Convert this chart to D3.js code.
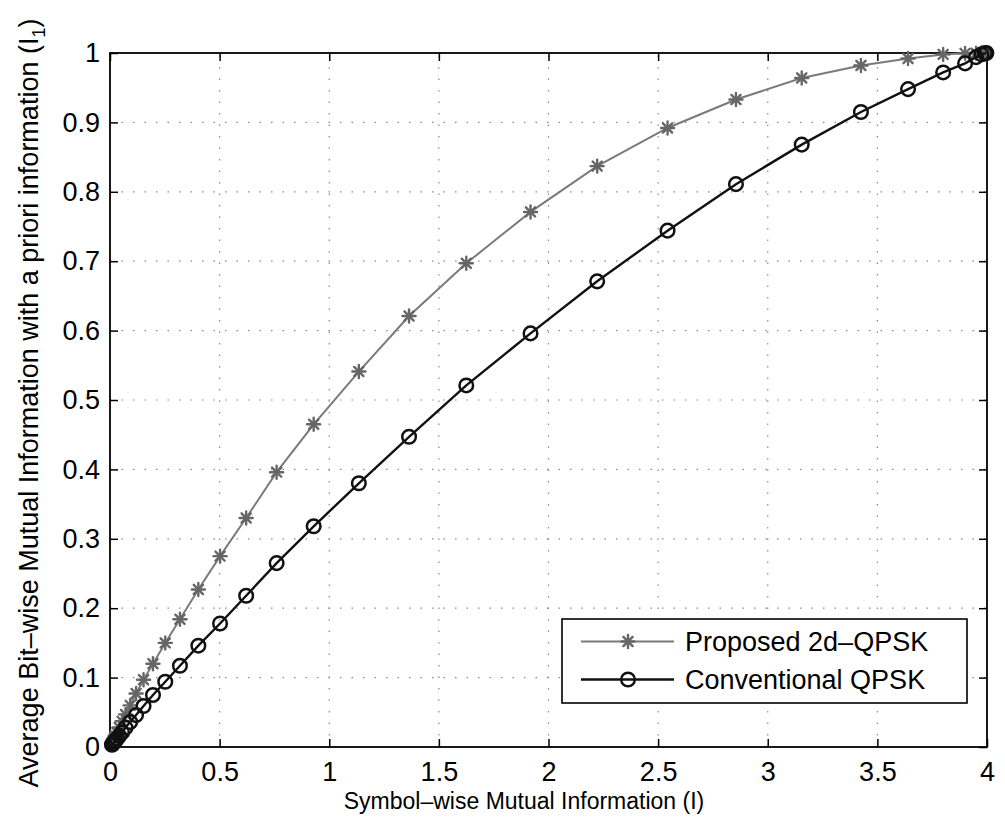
<!DOCTYPE html>
<html>
<head>
<meta charset="utf-8">
<script src="https://cdn.jsdelivr.net/npm/d3@7"></script>
<style>
  html, body { margin: 0; padding: 0; background: #fff; }
  svg { display: block; font-family: "Liberation Sans", Arial, Helvetica, sans-serif; }
</style>
</head>
<body>
<svg id="chart" width="1005" height="821"></svg>
<script>
// ---- Data ----
const symbolMI = [3.997, 3.99, 3.975, 3.95, 3.90, 3.80, 3.64, 3.425, 3.155, 2.855, 2.543, 2.222, 1.918, 1.625, 1.364, 1.135, 0.929, 0.760, 0.621, 0.502, 0.403, 0.319, 0.252, 0.196, 0.153, 0.119, 0.092, 0.071, 0.055, 0.042, 0.032, 0.025, 0.019, 0.015, 0.011, 0.009];
const proposed2dQPSK = [1.0, 1.0, 1.0, 0.9998, 0.9995, 0.998, 0.992, 0.982, 0.964, 0.933, 0.892, 0.837, 0.771, 0.697, 0.621, 0.541, 0.465, 0.396, 0.330, 0.275, 0.227, 0.184, 0.150, 0.120, 0.097, 0.077, 0.060, 0.047, 0.037, 0.028, 0.021, 0.016, 0.012, 0.0095, 0.007, 0.0055];
const conventionalQPSK = [1.0, 0.9995, 0.998, 0.994, 0.985, 0.972, 0.948, 0.915, 0.868, 0.811, 0.744, 0.671, 0.596, 0.521, 0.447, 0.380, 0.318, 0.265, 0.218, 0.178, 0.146, 0.117, 0.094, 0.075, 0.059, 0.046, 0.036, 0.028, 0.021, 0.016, 0.012, 0.0093, 0.007, 0.0055, 0.004, 0.0033];
const xTicks = [0, 0.5, 1, 1.5, 2, 2.5, 3, 3.5, 4];
const xTickLabels = ["0", "0.5", "1", "1.5", "2", "2.5", "3", "3.5", "4"];
const yTicks = [0, 0.1, 0.2, 0.3, 0.4, 0.5, 0.6, 0.7, 0.8, 0.9, 1];
const yTickLabels = ["0", "0.1", "0.2", "0.3", "0.4", "0.5", "0.6", "0.7", "0.8", "0.9", "1"];
const seriesNames = ["Proposed 2d\u2013QPSK", "Conventional QPSK"];

// ---- Layout ----
const L = 110, R = 987, T = 53, B = 747;
const svg = d3.select("#chart");
const x = d3.scaleLinear().domain([0, 4]).range([L, R]);
const y = d3.scaleLinear().domain([0, 1]).range([B, T]);

// grid
const grid = svg.append("g").attr("stroke", "#8a8a8a").attr("stroke-width", 1.2)
  .attr("stroke-dasharray", "1.5,10");
grid.selectAll(".gx").data(xTicks.slice(1, -1)).enter().append("line")
  .attr("x1", d => x(d)).attr("x2", d => x(d)).attr("y1", B).attr("y2", T);
grid.selectAll(".gy").data(yTicks.slice(1, -1)).enter().append("line")
  .attr("y1", d => y(d)).attr("y2", d => y(d)).attr("x1", L).attr("x2", R);

// axes (inward ticks on all sides, box)
const tickLen = 8;
const axB = d3.axisBottom(x).tickValues(xTicks).tickSize(-tickLen).tickPadding(15)
  .tickFormat((d, i) => xTickLabels[i]);
const axT = d3.axisTop(x).tickValues(xTicks).tickSize(-tickLen).tickFormat("");
const axLft = d3.axisLeft(y).tickValues(yTicks).tickSize(-tickLen).tickPadding(10)
  .tickFormat((d, i) => yTickLabels[i]);
const axRgt = d3.axisRight(y).tickValues(yTicks).tickSize(-tickLen).tickFormat("");

function styleAxis(g) {
  g.select(".domain").remove();
  g.selectAll(".tick line").attr("stroke", "#000").attr("stroke-width", 1.5);
  g.selectAll(".tick text").attr("fill", "#000").attr("font-size", 27)
    .attr("font-family", "'Liberation Sans', Arial, sans-serif");
}
svg.append("g").attr("transform", `translate(0,${B})`).call(axB).call(styleAxis);
svg.append("g").attr("transform", `translate(0,${T})`).call(axT).call(styleAxis);
svg.append("g").attr("transform", `translate(${L},0)`).call(axLft).call(styleAxis);
svg.append("g").attr("transform", `translate(${R},0)`).call(axRgt).call(styleAxis);

svg.append("rect").attr("x", L).attr("y", T).attr("width", R - L).attr("height", B - T)
  .attr("fill", "none").attr("stroke", "#000").attr("stroke-width", 1.8);

// series
const propData = symbolMI.map((v, i) => [v, proposed2dQPSK[i]]);
const convData = symbolMI.map((v, i) => [v, conventionalQPSK[i]]);
const line = d3.line().x(d => x(d[0])).y(d => y(d[1]));

const gray = "#7a7a7a";
function star(g, cx, cy, r, color) {
  const s = g.append("g").attr("transform", `translate(${cx},${cy})`)
    .attr("stroke", color).attr("stroke-width", 2.4).attr("stroke-linecap", "round");
  [0, 45, 90, 135].forEach(a => {
    const rad = a * Math.PI / 180;
    s.append("line").attr("x1", -r * Math.cos(rad)).attr("y1", -r * Math.sin(rad))
      .attr("x2", r * Math.cos(rad)).attr("y2", r * Math.sin(rad));
  });
}

svg.append("path").datum(propData).attr("d", line).attr("fill", "none")
  .attr("stroke", gray).attr("stroke-width", 2);
const starG = svg.append("g");
propData.forEach(d => star(starG, x(d[0]), y(d[1]), 6.5, "#666"));

svg.append("path").datum(convData).attr("d", line).attr("fill", "none")
  .attr("stroke", "#111").attr("stroke-width", 2.4);
svg.append("g").selectAll("circle").data(convData).enter().append("circle")
  .attr("cx", d => x(d[0])).attr("cy", d => y(d[1])).attr("r", 6.8)
  .attr("fill", "none").attr("stroke", "#111").attr("stroke-width", 2.5);

// legend
const lg = svg.append("g");
lg.append("rect").attr("x", 562).attr("y", 619).attr("width", 405).attr("height", 84)
  .attr("fill", "#fff").attr("stroke", "#000").attr("stroke-width", 1.6);
const rows = [641.5, 679.5];
seriesNames.forEach((name, i) => {
  const yy = rows[i];
  lg.append("line").attr("x1", 581).attr("x2", 674).attr("y1", yy).attr("y2", yy)
    .attr("stroke", i === 0 ? gray : "#111").attr("stroke-width", i === 0 ? 2 : 2.4);
  if (i === 0) star(lg, 628, yy, 6.5, "#666");
  else lg.append("circle").attr("cx", 628).attr("cy", yy).attr("r", 6.8)
    .attr("fill", "none").attr("stroke", "#111").attr("stroke-width", 2.5);
  lg.append("text").attr("x", 685).attr("y", yy).attr("dy", "0.36em")
    .attr("font-size", 27).attr("fill", "#000").text(name);
});

// axis titles
svg.append("text").attr("x", 524).attr("y", 809).attr("text-anchor", "middle")
  .attr("font-size", 23).attr("fill", "#000").text("Symbol\u2013wise Mutual Information (I)");

const yl = svg.append("text").attr("transform", `translate(38,403) rotate(-90)`)
  .attr("text-anchor", "middle").attr("font-size", 27).attr("fill", "#000");
yl.append("tspan").text("Average Bit\u2013wise Mutual Information with a priori information (I");
yl.append("tspan").attr("font-size", 18).attr("dy", 7).text("1");
yl.append("tspan").attr("dy", -7).text(")");
</script>
</body>
</html>
